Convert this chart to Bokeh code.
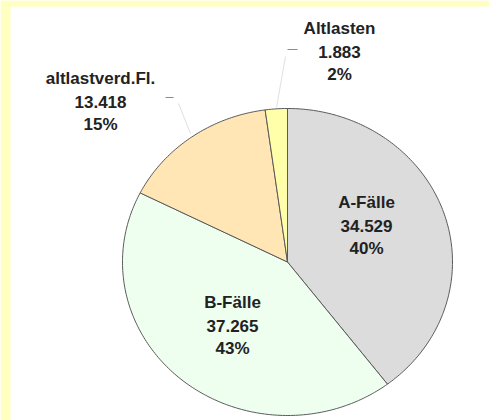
import numpy as np
from bokeh.plotting import figure
from bokeh.models import Range1d, ColumnDataSource
from bokeh.core.properties import value
from bokeh.embed import file_html
from bokeh.resources import INLINE

# ---- data ----
categories = ["A-Fälle", "B-Fälle", "altlastverd.Fl.", "Altlasten"]
counts = [34529, 37265, 13418, 1883]
colors = ["#DCDCDC", "#EEFFF0", "#FFE6B4", "#FFFFAA"]

total = sum(counts)
fractions = [c / total for c in counts]
count_labels = [f"{c:,}".replace(",", ".") for c in counts]
pct_labels = [f"{round(f * 100)}%" for f in fractions]

# ---- layout (pixel coordinates, y downwards) ----
W, H = 489, 420
cx, cy, rx, ry = 287, 261.5, 165, 153.5
label_pos = [(366, 202), (232, 302), (100, 78), (339, 28)]
line_gap = 23

p = figure(width=W, height=H, x_range=Range1d(0, W), y_range=Range1d(H, 0),
           min_border=0, toolbar_location=None, output_backend="svg")
p.axis.visible = False
p.grid.visible = False
p.outline_line_color = None
p.background_fill_color = "white"
p.border_fill_color = "white"

# yellow frame bands
p.quad(left=[0, 0], right=[10, W], top=[0, 0], bottom=[H, 6],
       fill_color="#FFFFC0", line_color=None)

# pie slices as patches (clockwise from 12 o'clock)
xs, ys = [], []
start = 0.0
for f in fractions:
    end = start + f * 2 * np.pi
    t = np.linspace(start, end, max(int(f * 400), 4))
    xs.append([cx] + list(cx + rx * np.sin(t)) + [cx])
    ys.append([cy] + list(cy - ry * np.cos(t)) + [cy])
    start = end
p.patches(xs=xs, ys=ys, fill_color=colors, line_color="#5A5A5A", line_width=1)

# leader lines
p.segment(x0=[165, 287], y0=[97, 49], x1=[173, 297], y1=[97, 49],
          line_color="#8A8A8A", line_width=1.2)
p.segment(x0=[178, 285], y0=[103, 56], x1=[190, 276], y1=[133, 107],
          line_color="#E0E0E0", line_width=1)

# labels
tx, ty, tt = [], [], []
for (lx, ly), name, cl, pl in zip(label_pos, categories, count_labels, pct_labels):
    for k, s in enumerate([name, cl, pl]):
        tx.append(lx)
        ty.append(ly + k * line_gap)
        tt.append(s)
src = ColumnDataSource(dict(x=tx, y=ty, text=tt))
p.text(x="x", y="y", text="text", source=src, text_align="center",
       text_baseline="middle", text_font=value("Liberation Sans"),
       text_font_style="bold", text_font_size="17px", text_color="#222222")

open("out.html", "w").write(file_html(p, INLINE))
